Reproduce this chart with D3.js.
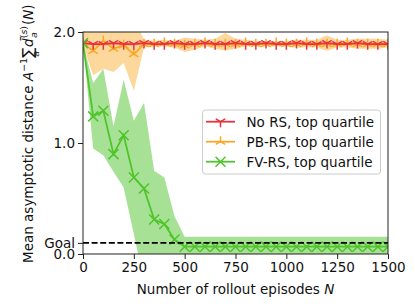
<!DOCTYPE html>
<html><head><meta charset="utf-8">
<script src="https://cdn.jsdelivr.net/npm/d3@7"></script>
<style>body{margin:0;background:#fff}svg{display:block}text{font-family:"DejaVu Sans",sans-serif}</style>
</head><body><svg id="c" width="415" height="307"></svg>
<script>
const episodes = d3.range(0, 1501, 50);
const xTicks = [0, 250, 500, 750, 1000, 1250, 1500];
const yTicks = [0.0, 0.1, 1.0, 2.0];
const yTickLabels = ["0.0", "Goal", "1.0", "2.0"];
const goal = 0.1;
const seriesNames = ["No RS, top quartile", "PB-RS, top quartile", "FV-RS, top quartile"];

const noRSMean = [1.90,1.89,1.89,1.90,1.89,1.89,1.90,1.89,1.89,1.90,1.89,1.89,1.90,1.89,1.89,1.90,1.89,1.89,1.90,1.89,1.89,1.90,1.89,1.89,1.90,1.89,1.89,1.90,1.89,1.89,1.89];
const noRSLo   = noRSMean.map(v => v - 0.012);
const noRSHi   = noRSMean.map(v => v + 0.012);

const pbMean = [1.90,1.83,1.92,1.85,1.88,1.80,1.89,1.89,1.90,1.89,1.88,1.89,1.90,1.89,1.89,1.89,1.90,1.89,1.89,1.90,1.89,1.89,1.90,1.89,1.89,1.89,1.90,1.89,1.89,1.89,1.89];
const pbLo   = [1.88,1.61,1.67,1.64,1.72,1.47,1.86,1.87,1.87,1.86,1.82,1.84,1.87,1.85,1.83,1.85,1.87,1.87,1.87,1.87,1.87,1.86,1.86,1.86,1.83,1.86,1.86,1.85,1.85,1.85,1.86];
const pbHi   = [2.05,2.12,2.15,2.10,2.06,2.13,1.93,1.92,1.93,1.92,1.95,1.94,1.93,1.94,1.99,1.94,1.93,1.92,1.92,1.92,1.92,1.93,1.93,1.93,1.97,1.93,1.93,1.94,1.94,1.94,1.93];

const fvMean = [1.90,1.24,1.29,0.90,1.07,0.69,0.59,0.31,0.27,0.13,0.066,0.066,0.066,0.066,0.066,0.066,0.066,0.066,0.066,0.066,0.066,0.066,0.066,0.066,0.066,0.066,0.066,0.066,0.066,0.066,0.066];
const fvLo   = [1.90,0.95,0.89,0.74,0.60,0.18,-0.25,-0.30,-0.20,-0.08,-0.03,-0.03,-0.03,-0.03,-0.03,-0.03,-0.03,-0.03,-0.03,-0.03,-0.03,-0.03,-0.03,-0.03,-0.03,-0.03,-0.03,-0.03,-0.03,-0.03,-0.03];
const fvHi   = [1.90,1.54,1.67,1.15,1.57,1.20,1.36,0.75,0.69,0.34,0.155,0.155,0.155,0.155,0.155,0.155,0.155,0.155,0.155,0.155,0.155,0.155,0.155,0.155,0.155,0.155,0.155,0.155,0.155,0.155,0.155];

const colors = ["#e8333f", "#f9a825", "#4fc42b"];
const fillOpacity = [0.4, 0.45, 0.5];

const M = {l: 83, r: 388, t: 32, b: 254};
const svg = d3.select("#c");
const x = d3.scaleLinear().domain([0, 1500]).range([M.l, M.r]);
const y = d3.scaleLinear().domain([0, 2]).range([M.b, M.t]);

svg.append("defs").append("clipPath").attr("id","clip")
  .append("rect").attr("x",M.l).attr("y",M.t).attr("width",M.r-M.l).attr("height",M.b-M.t);
const plot = svg.append("g").attr("clip-path","url(#clip)");

const series = [
  {mean: noRSMean, lo: noRSLo, hi: noRSHi, marker: "tri_down"},
  {mean: pbMean, lo: pbLo, hi: pbHi, marker: "tri_up"},
  {mean: fvMean, lo: fvLo, hi: fvHi, marker: "x"}
];

const area = d3.area().x((d,i)=>x(episodes[i])).y0(d=>y(d[0])).y1(d=>y(d[1]));
series.forEach((s,k)=>{
  plot.append("path").datum(s.lo.map((v,i)=>[v, s.hi[i]]))
    .attr("d", area).attr("fill", colors[k]).attr("fill-opacity", fillOpacity[k]).attr("stroke","none");
});

function markerPath(type, r){
  const a = 0.866*r, b = 0.5*r;
  if (type === "tri_down") return `M0,0L0,${r}M0,0L${-a},${-b}M0,0L${a},${-b}`;
  if (type === "tri_up") return `M0,0L0,${-r}M0,0L${-a},${b}M0,0L${a},${b}`;
  return `M${-r},${-r}L${r},${r}M${-r},${r}L${r},${-r}`;
}

const line = d3.line().x((d,i)=>x(episodes[i])).y(d=>y(d));
[1,0,2].forEach(k=>{
  const s = series[k];
  plot.append("path").datum(s.mean).attr("d", line).attr("fill","none")
    .attr("stroke", colors[k]).attr("stroke-width", 1.8);
  plot.selectAll(null).data(s.mean).enter().append("path")
    .attr("transform",(d,i)=>`translate(${x(episodes[i])},${y(d)})`)
    .attr("d", markerPath(s.marker, k===2?5:5.5))
    .attr("fill","none").attr("stroke", colors[k]).attr("stroke-width", 1.5);
});

// goal line
plot.append("line").attr("x1",M.l).attr("x2",M.r).attr("y1",y(goal)).attr("y2",y(goal))
  .attr("stroke","#000").attr("stroke-width",1.6).attr("stroke-dasharray","6,2.6");

// axes
const xAxis = svg.append("g").attr("transform",`translate(0,${M.b})`)
  .call(d3.axisBottom(x).tickValues(xTicks).tickSize(5).tickPadding(3).tickFormat(d3.format("d")));
const yAxis = svg.append("g").attr("transform",`translate(${M.l},0)`)
  .call(d3.axisLeft(y).tickValues(yTicks).tickSize(5).tickPadding(3).tickFormat((d,i)=>yTickLabels[i]));
[xAxis,yAxis].forEach(g=>{
  g.select(".domain").remove();
  g.selectAll("line").attr("stroke","#222").attr("stroke-width",1);
  g.selectAll("text").attr("font-size",13.5).attr("fill","#111").style("font-family","DejaVu Sans");
});
svg.append("rect").attr("x",M.l).attr("y",M.t).attr("width",M.r-M.l).attr("height",M.b-M.t)
  .attr("fill","none").attr("stroke","#222").attr("stroke-width",1);

// x label
const xl = svg.append("text").attr("x", 235.5).attr("y", 294).attr("text-anchor","middle")
  .attr("font-size",13.5).attr("fill","#111");
xl.append("tspan").text("Number of rollout episodes ");
xl.append("tspan").attr("font-style","italic").text("N");

// y label
const yl = svg.append("text").attr("transform","translate(33,263) rotate(-90)")
  .attr("font-size",13.5).attr("fill","#111");
yl.append("tspan").text("Mean asymptotic distance ");
yl.append("tspan").attr("font-style","italic").text("A");
yl.append("tspan").attr("font-size",9.5).attr("dy",-6).text("−1");
yl.append("tspan").attr("dy",6).attr("font-size",15).text("∑");
yl.append("tspan").attr("font-size",9.5).attr("font-style","italic").attr("dx",-9).attr("dy",6).text("a");
yl.append("tspan").attr("font-style","italic").attr("dx",4).attr("dy",-6).text("d̄");
yl.append("tspan").attr("font-size",9.5).attr("dy",-6).text("(");
yl.append("tspan").attr("font-size",9.5).attr("font-style","italic").text("s");
yl.append("tspan").attr("font-size",9.5).text(")");
yl.append("tspan").attr("font-size",9.5).attr("font-style","italic").attr("dx",-12).attr("dy",10).text("a");
yl.append("tspan").attr("dx",7).attr("dy",-4).text("(");
yl.append("tspan").attr("font-style","italic").text("N");
yl.append("tspan").text(")");

// legend
const lg = svg.append("g");
lg.append("rect").attr("x",202.5).attr("y",110).attr("width",178).attr("height",64).attr("rx",3)
  .attr("fill","#fff").attr("fill-opacity",0.8).attr("stroke","#ccc").attr("stroke-width",1);
seriesNames.forEach((n,k)=>{
  const yy = 121.7 + k*20;
  lg.append("line").attr("x1",206).attr("x2",235).attr("y1",yy).attr("y2",yy)
    .attr("stroke",colors[k]).attr("stroke-width",1.8);
  lg.append("path").attr("transform",`translate(220.5,${yy})`).attr("d",markerPath(series[k].marker, k===2?5:5.5))
    .attr("fill","none").attr("stroke",colors[k]).attr("stroke-width",1.5);
  lg.append("text").attr("x",246.5).attr("y",yy+4.8).attr("font-size",13.5).attr("fill","#111").text(n);
});
</script></body></html>
